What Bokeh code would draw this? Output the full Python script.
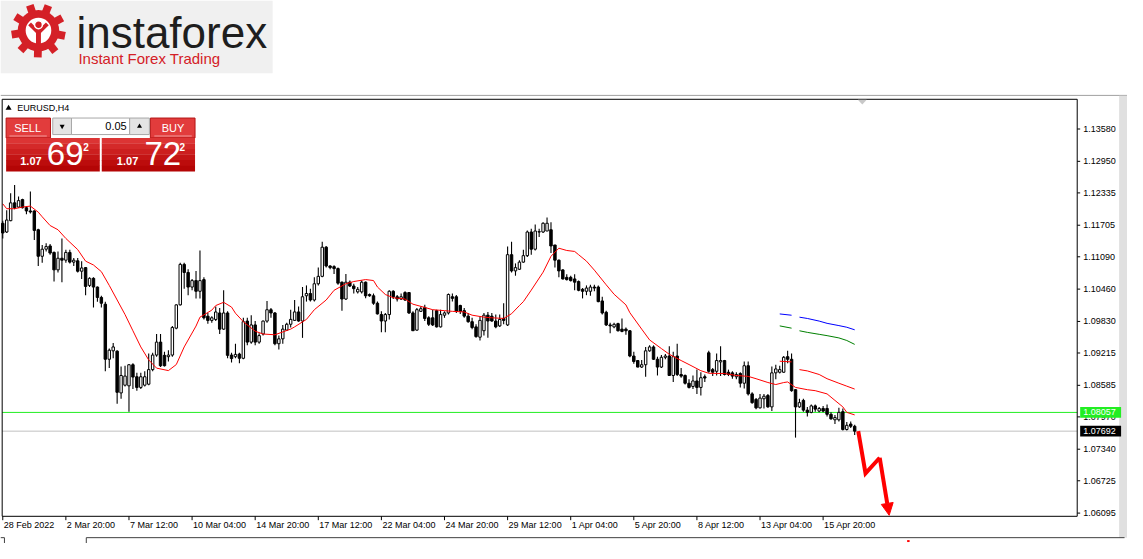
import math
from bokeh.plotting import figure
from bokeh.models import Range1d, Arrow, NormalHead
from bokeh.embed import file_html
from bokeh.resources import INLINE
from bokeh.core.properties import value

FONT = "Liberation Sans"

# ---------------- data (EURUSD H4) ----------------
opens = [1.11743, 1.11573, 1.11794, 1.12141, 1.12059, 1.12204, 1.12046, 1.11983, 1.11983, 1.11617,
         1.11100, 1.11238, 1.11301, 1.11175, 1.10835, 1.11062, 1.11024, 1.11175, 1.10986, 1.11011,
         1.10809, 1.10879, 1.10532, 1.10670, 1.10500, 1.10298, 1.10166, 1.09093, 1.09257, 1.09251,
         1.08437, 1.08588, 1.08575, 1.08986, 1.08752, 1.08544, 1.08588, 1.08607, 1.08891, 1.09175,
         1.09427, 1.09169, 1.09143, 1.09175, 1.09699, 1.10153, 1.10942, 1.10784, 1.10500, 1.10626,
         1.10418, 1.10645, 1.09932, 1.09850, 1.09869, 1.09995, 1.09680, 1.09995, 1.09175, 1.09143,
         1.09194, 1.09112, 1.09837, 1.09427, 1.09762, 1.09427, 1.09585, 1.09837, 1.10058, 1.09995,
         1.09396, 1.09491, 1.09661, 1.09775, 1.09851, 1.10015, 1.09838, 1.10330, 1.10374, 1.10248,
         1.10564, 1.10709, 1.11277, 1.10911, 1.10898, 1.10860, 1.10595, 1.10267, 1.10595, 1.10520,
         1.10406, 1.10406, 1.10595, 1.10355, 1.10330, 1.10185, 1.09964, 1.09838, 1.09964, 1.10418,
         1.10311, 1.10267, 1.10393, 1.10393, 1.09996, 1.09661, 1.10027, 1.10103, 1.09901, 1.09901,
         1.10040, 1.09724, 1.09952, 1.09996, 1.10311, 1.10311, 1.10141, 1.10040, 1.09933, 1.09825,
         1.09724, 1.09523, 1.09649, 1.09952, 1.09933, 1.09837, 1.09743, 1.09888, 1.09762, 1.11131,
         1.10815, 1.10847, 1.10986, 1.11112, 1.11573, 1.11238, 1.11573, 1.11573, 1.11592, 1.11617,
         1.11320, 1.11024, 1.10834, 1.10689, 1.10689, 1.10658, 1.10607, 1.10456, 1.10418, 1.10418,
         1.10500, 1.10500, 1.10229, 1.10008, 1.09762, 1.09724, 1.09787, 1.09680, 1.09680, 1.09648,
         1.09156, 1.09068, 1.08941, 1.08986, 1.09257, 1.09333, 1.09093, 1.08941, 1.09131, 1.09156,
         1.08777, 1.09156, 1.08796, 1.08777, 1.08626, 1.08563, 1.08670, 1.08544, 1.08752, 1.09219,
         1.08891, 1.08859, 1.09042, 1.09068, 1.08840, 1.08828, 1.08752, 1.08815, 1.08626, 1.08967,
         1.08418, 1.08310, 1.08146, 1.08323, 1.08386, 1.08165, 1.08828, 1.08840, 1.08840, 1.09143,
         1.09093, 1.08500, 1.08165, 1.08291, 1.08102, 1.08058, 1.08184, 1.08083, 1.08134, 1.08134,
         1.08020, 1.07913, 1.07913, 1.08071, 1.07724, 1.07831, 1.07787]
highs = [1.11794, 1.11996, 1.12330, 1.12488, 1.12267, 1.12223, 1.12078, 1.12362, 1.11996, 1.11636,
         1.11320, 1.11352, 1.11339, 1.11194, 1.11194, 1.11447, 1.11226, 1.11226, 1.11068, 1.11068,
         1.11005, 1.10891, 1.10689, 1.10689, 1.10513, 1.10330, 1.10216, 1.09301, 1.09408, 1.09270,
         1.08954, 1.08967, 1.08998, 1.09017, 1.08828, 1.08828, 1.08859, 1.09206, 1.09219, 1.09585,
         1.09585, 1.09238, 1.09270, 1.09743, 1.10166, 1.10973, 1.10973, 1.10847, 1.10658, 1.10815,
         1.11213, 1.10689, 1.09995, 1.09932, 1.10121, 1.10090, 1.10437, 1.10027, 1.09219, 1.09396,
         1.09219, 1.09901, 1.09901, 1.09951, 1.09837, 1.09598, 1.09850, 1.10229, 1.10090, 1.10014,
         1.09554, 1.09762, 1.09806, 1.10059, 1.10248, 1.10122, 1.10501, 1.10532, 1.10469, 1.10690,
         1.10879, 1.11384, 1.11302, 1.10923, 1.10923, 1.10879, 1.10608, 1.10753, 1.10627, 1.10564,
         1.10501, 1.10627, 1.10608, 1.10374, 1.10374, 1.10217, 1.10027, 1.09996, 1.10437, 1.10437,
         1.10343, 1.10374, 1.10418, 1.10406, 1.10027, 1.10090, 1.10122, 1.10154, 1.09933, 1.10059,
         1.10059, 1.10059, 1.10027, 1.10374, 1.10374, 1.10343, 1.10154, 1.10090, 1.09996, 1.09901,
         1.09775, 1.09933, 1.09996, 1.10015, 1.09996, 1.09964, 1.09964, 1.10185, 1.11289, 1.11383,
         1.10961, 1.11024, 1.11226, 1.11604, 1.11636, 1.11718, 1.11636, 1.11762, 1.11857, 1.11762,
         1.11320, 1.11036, 1.10847, 1.10752, 1.10721, 1.10752, 1.10626, 1.10481, 1.10532, 1.10544,
         1.10544, 1.10532, 1.10311, 1.10039, 1.09806, 1.09806, 1.09806, 1.09888, 1.09711, 1.09661,
         1.09238, 1.09080, 1.09080, 1.09333, 1.09364, 1.09364, 1.09143, 1.09175, 1.09194, 1.09345,
         1.09238, 1.09396, 1.08922, 1.08796, 1.08702, 1.08777, 1.08891, 1.08840, 1.08796, 1.09257,
         1.08922, 1.09206, 1.09345, 1.09080, 1.08891, 1.08859, 1.08840, 1.08840, 1.09049, 1.09049,
         1.08449, 1.08336, 1.08418, 1.08418, 1.08418, 1.08954, 1.08986, 1.08967, 1.09156, 1.09257,
         1.09206, 1.08512, 1.08323, 1.08323, 1.08165, 1.08209, 1.08209, 1.08165, 1.08184, 1.08209,
         1.08058, 1.08008, 1.08146, 1.08134, 1.07869, 1.07881, 1.07818]
lows = [1.11447, 1.11554, 1.11781, 1.12014, 1.12046, 1.12033, 1.11920, 1.11932, 1.11415, 1.10910,
        1.10973, 1.11194, 1.11131, 1.10607, 1.10784, 1.10595, 1.10973, 1.10961, 1.10910, 1.10784,
        1.10658, 1.10342, 1.10500, 1.10103, 1.10216, 1.10103, 1.08859, 1.08923, 1.09112, 1.08228,
        1.08323, 1.08563, 1.08071, 1.08512, 1.08481, 1.08512, 1.08563, 1.08588, 1.08859, 1.09143,
        1.08942, 1.08954, 1.09049, 1.09143, 1.09680, 1.10140, 1.10469, 1.10342, 1.10437, 1.10279,
        1.10279, 1.09869, 1.09787, 1.09806, 1.09837, 1.09585, 1.09661, 1.09112, 1.09030, 1.09112,
        1.09017, 1.09093, 1.09364, 1.09396, 1.09364, 1.09396, 1.09554, 1.09806, 1.09901, 1.09364,
        1.09283, 1.09396, 1.09649, 1.09712, 1.09838, 1.09825, 1.09510, 1.10217, 1.10217, 1.10217,
        1.10532, 1.10690, 1.10879, 1.10848, 1.10753, 1.10545, 1.10040, 1.10248, 1.10501, 1.10374,
        1.10374, 1.10374, 1.10280, 1.10311, 1.10154, 1.09964, 1.09617, 1.09617, 1.09870, 1.10267,
        1.10217, 1.10248, 1.10229, 1.09977, 1.09649, 1.09649, 1.10015, 1.09838, 1.09743, 1.09743,
        1.09712, 1.09712, 1.09901, 1.09964, 1.10217, 1.09996, 1.09977, 1.09901, 1.09806, 1.09680,
        1.09510, 1.09459, 1.09554, 1.09510, 1.09825, 1.09699, 1.09724, 1.09774, 1.09743, 1.10784,
        1.10721, 1.10834, 1.10973, 1.11087, 1.11131, 1.11213, 1.11478, 1.11554, 1.11592, 1.11162,
        1.10879, 1.10689, 1.10645, 1.10626, 1.10607, 1.10437, 1.10418, 1.10279, 1.10342, 1.10330,
        1.10418, 1.10203, 1.09964, 1.09743, 1.09598, 1.09699, 1.09636, 1.09617, 1.09572, 1.09131,
        1.09005, 1.08935, 1.08922, 1.08752, 1.09238, 1.09080, 1.08777, 1.08922, 1.09093, 1.08765,
        1.08651, 1.08765, 1.08733, 1.08601, 1.08525, 1.08512, 1.08418, 1.08386, 1.08651, 1.08828,
        1.08765, 1.08777, 1.08765, 1.08777, 1.08765, 1.08714, 1.08702, 1.08544, 1.08525, 1.08386,
        1.08228, 1.08121, 1.08134, 1.08134, 1.08146, 1.08083, 1.08702, 1.08815, 1.08828, 1.09017,
        1.08462, 1.07566, 1.08146, 1.08071, 1.07976, 1.08039, 1.08071, 1.08058, 1.08058, 1.07976,
        1.07913, 1.07831, 1.07881, 1.07705, 1.07705, 1.07755, 1.07616]
closes = [1.11554, 1.11806, 1.12141, 1.12046, 1.12185, 1.12046, 1.11983, 1.11964, 1.11604, 1.11100,
          1.11238, 1.11289, 1.11163, 1.10835, 1.11062, 1.11024, 1.11175, 1.10986, 1.11024, 1.10809,
          1.10872, 1.10513, 1.10670, 1.10500, 1.10298, 1.10185, 1.09093, 1.09270, 1.09333, 1.08449,
          1.08777, 1.08765, 1.08986, 1.08746, 1.08544, 1.08752, 1.08752, 1.08891, 1.09175, 1.09427,
          1.08967, 1.08967, 1.09175, 1.09711, 1.10153, 1.10942, 1.10784, 1.10500, 1.10626, 1.10418,
          1.10626, 1.09901, 1.09850, 1.09901, 1.10014, 1.09680, 1.09995, 1.09169, 1.09106, 1.09188,
          1.09112, 1.09825, 1.09427, 1.09762, 1.09427, 1.09554, 1.09837, 1.10058, 1.09995, 1.09396,
          1.09491, 1.09680, 1.09775, 1.09870, 1.10015, 1.09838, 1.10311, 1.10374, 1.10248, 1.10564,
          1.10709, 1.11277, 1.10911, 1.10879, 1.10860, 1.10576, 1.10267, 1.10595, 1.10520, 1.10469,
          1.10456, 1.10595, 1.10330, 1.10330, 1.10185, 1.09977, 1.09838, 1.09964, 1.10418, 1.10311,
          1.10267, 1.10311, 1.10248, 1.09996, 1.09649, 1.10059, 1.10078, 1.09888, 1.09775, 1.09762,
          1.09724, 1.09964, 1.09996, 1.10355, 1.10280, 1.10027, 1.10027, 1.09933, 1.09825, 1.09712,
          1.09535, 1.09851, 1.09952, 1.09838, 1.09838, 1.09724, 1.09869, 1.09850, 1.11131, 1.10815,
          1.10879, 1.10986, 1.11112, 1.11573, 1.11238, 1.11592, 1.11579, 1.11743, 1.11743, 1.11301,
          1.11024, 1.10815, 1.10658, 1.10645, 1.10626, 1.10595, 1.10437, 1.10418, 1.10481, 1.10500,
          1.10481, 1.10216, 1.09995, 1.09762, 1.09743, 1.09774, 1.09648, 1.09636, 1.09648, 1.09156,
          1.09049, 1.08941, 1.08986, 1.09257, 1.09333, 1.09093, 1.08941, 1.09131, 1.09156, 1.08777,
          1.09143, 1.08796, 1.08765, 1.08626, 1.08544, 1.08670, 1.08544, 1.08733, 1.08727, 1.08859,
          1.08840, 1.09068, 1.09068, 1.08796, 1.08796, 1.08765, 1.08796, 1.08626, 1.08967, 1.08418,
          1.08247, 1.08146, 1.08336, 1.08373, 1.08165, 1.08828, 1.08904, 1.08891, 1.09131, 1.09093,
          1.08481, 1.08165, 1.08247, 1.08102, 1.08058, 1.08184, 1.08121, 1.08134, 1.08083, 1.08020,
          1.07932, 1.07957, 1.08058, 1.07724, 1.07806, 1.07787, 1.07692]

# moving average (bar index, price)
ma_bars = [0, 1, 3, 5, 7, 9, 10, 12, 14, 16, 19, 21, 23, 25, 27, 29, 31, 33, 35, 37, 39, 42, 44,
           46, 49, 50, 53, 54, 56, 58, 59, 61, 64, 66, 69, 73, 74, 77, 79, 82, 84, 87, 89, 92,
           94, 95, 97, 99, 102, 104, 107, 109, 112, 114, 117, 119, 122, 124, 127, 129, 131, 132,
           134, 137, 139, 141, 143, 145, 146, 148, 150, 153, 155, 158, 159, 162, 164, 167, 169,
           172, 174, 177, 179, 183, 186, 189, 191, 194, 196, 198, 199, 201, 204, 206, 209, 211,
           213, 214, 216]
ma_values = [1.12122, 1.12027, 1.12027, 1.12059, 1.12078, 1.11960, 1.11869, 1.11699, 1.11617,
             1.11447, 1.11230, 1.11005, 1.10930, 1.10800, 1.10532, 1.10248, 1.09964, 1.09648,
             1.09333, 1.09080, 1.08920, 1.08872, 1.08990, 1.09333, 1.09740, 1.09913, 1.10050,
             1.10140, 1.10203, 1.10110, 1.09990, 1.09825, 1.09640, 1.09585, 1.09570, 1.09680,
             1.09724, 1.09870, 1.10059, 1.10248, 1.10437, 1.10564, 1.10608, 1.10646, 1.10627,
             1.10501, 1.10355, 1.10292, 1.10267, 1.10166, 1.10103, 1.10059, 1.10040, 1.10027,
             1.10015, 1.09952, 1.09914, 1.09901, 1.09889, 1.09980, 1.10140, 1.10216, 1.10440,
             1.10790, 1.11100, 1.11257, 1.11213, 1.11194, 1.11131, 1.11005, 1.10830, 1.10544,
             1.10360, 1.10153, 1.10000, 1.09680, 1.09470, 1.09301, 1.09190, 1.09068, 1.08990,
             1.08870, 1.08820, 1.08815, 1.08777, 1.08760, 1.08714, 1.08640, 1.08600, 1.08639,
             1.08651, 1.08544, 1.08500, 1.08481, 1.08418, 1.08291, 1.08165, 1.08058, 1.08008]

# short indicator lines at the right end (two pieces each)
ind_bars_a = [197, 200]
ind_bars_b = [202, 204, 207, 209, 212, 214, 216]
blue_a = [1.09976, 1.09951]
blue_b = [1.09913, 1.09888, 1.09837, 1.09793, 1.09749, 1.09717, 1.09667]
green_a = [1.09743, 1.09699]
green_b = [1.09648, 1.09617, 1.09579, 1.09553, 1.09509, 1.09459, 1.09383]
red_a = [1.09055, 1.09042]
red_b = [1.08891, 1.08866, 1.08796, 1.08714, 1.08626, 1.08569, 1.08512]

# forecast arrow path (bar index, price)
forecast_bars = [216.9, 218.75, 222.35]
forecast_prices = [1.07693, 1.06871, 1.07174]
forecast_tip = [224.75, 1.06052]

level_price = 1.08057
bid_price = 1.07692
level_text = "1.08057"
bid_text = "1.07692"

price_ticks = [1.06095, 1.06725, 1.07340, 1.07970, 1.08585, 1.09215, 1.09830,
               1.10460, 1.11090, 1.11705, 1.12335, 1.12950, 1.13580]
time_tick_bars = [0, 16, 32, 48, 64, 80, 96, 112, 128, 144, 160, 176, 192, 208]
time_tick_labels = ["28 Feb 2022", "2 Mar 20:00", "7 Mar 12:00", "10 Mar 04:00", "14 Mar 20:00",
                    "17 Mar 12:00", "22 Mar 04:00", "24 Mar 20:00", "29 Mar 12:00", "1 Apr 04:00",
                    "5 Apr 20:00", "8 Apr 12:00", "13 Apr 04:00", "15 Apr 20:00"]

# ---------------- figure: default ranges = screen layout, extra ranges = chart scales ------
p = figure(width=1127, height=543, x_range=Range1d(0, 1143), y_range=Range1d(559, 0),
           toolbar_location=None, output_backend="svg", x_axis_location=None,
           y_axis_location=None, min_border=0, outline_line_color=None)
p.min_border_left = p.min_border_right = p.min_border_top = p.min_border_bottom = 0
p.background_fill_color = "white"
p.border_fill_color = "white"
p.xgrid.visible = False
p.ygrid.visible = False
p.grid.visible = False
# chart scales: bar index (4 px per bar) and price
p.extra_x_ranges = {"bar": Range1d(-0.575, 285.175)}
p.extra_y_ranges = {"price": Range1d(1.055025, 1.160845)}
B = dict(x_range_name="bar", y_range_name="price")

# ---- logo ----
p.quad(left=0, right=276, top=0, bottom=75, fill_color="#f0f0f0", line_color=None)
gx, gy = 38.5, 31.0
angles = [2 * math.pi * k / 9 + 0.2 for k in range(9)]
p.rect(x=[gx + 23.5 * math.cos(t) for t in angles], y=[gy + 23.5 * math.sin(t) for t in angles],
       width=8, height=8, angle=[-t for t in angles], fill_color="#d42027", line_color=None)
p.circle(x=[gx], y=[gy], radius=21, fill_color="#d42027", line_color=None)
p.circle(x=[gx], y=[gy], radius=13, fill_color="white", line_color=None)
p.quad(left=gx - 2.5, right=gx + 2.5, top=gy - 2, bottom=gy + 22, fill_color="#d42027",
       line_color=None)
p.multi_line(xs=[[gx, gx - 9], [gx, gx + 9]], ys=[[gy + 2, gy - 7], [gy + 2, gy - 7]],
             line_color="#d42027", line_width=4)
p.circle(x=[gx], y=[gy - 6], radius=4, fill_color="#d42027", line_color="white", line_width=1.5)
p.text(x=[77], y=[33], text=["instaforex"], text_font=value(FONT), text_font_size="44px",
       text_color="#1e1e1e", text_baseline="middle", text_align="left")
p.text(x=[79], y=[59.5], text=["Instant Forex Trading"], text_font=value(FONT),
       text_font_size="15px", text_color="#d42027", text_baseline="middle", text_align="left")

# ---- window borders ----
p.segment(x0=[0], y0=[97.7], x1=[1143], y1=[97.7], line_color="#a0a0a0", line_width=1)
p.quad(left=1134.5, right=1143, top=98, bottom=553, fill_color="#e0e0e0", line_color=None)
p.multi_line(xs=[[0, 4, 4], [1140, 87, 87]], ys=[[553, 553, 559], [553, 553, 559]],
             line_color="#404040", line_width=1)
p.quad(left=919.5, right=922, top=555.5, bottom=557.5, fill_color="#ff0000", line_color=None)

# ---- horizontal levels (under the candles) ----
p.segment(x0=[1.7], y0=[level_price], x1=[1092], y1=[level_price], line_color="#22ee22",
          line_width=1, y_range_name="price")
p.segment(x0=[1.7], y0=[bid_price], x1=[1092], y1=[bid_price], line_color="#c0c0c0",
          line_width=1, y_range_name="price")

# ---- candles ----
idx = list(range(len(opens)))
up_i = [i for i in idx if closes[i] >= opens[i]]
dn_i = [i for i in idx if closes[i] < opens[i]]
p.segment(x0=idx, y0=lows, x1=idx, y1=highs, line_color="black", line_width=1.1, **B)
p.vbar(x=up_i, width=0.62, top=[closes[i] for i in up_i], bottom=[opens[i] for i in up_i],
       fill_color="white", line_color="black", line_width=1, **B)
p.vbar(x=dn_i, width=0.62, top=[opens[i] for i in dn_i], bottom=[closes[i] for i in dn_i],
       fill_color="black", line_color="black", line_width=1, **B)

# ---- indicators ----
p.line(x=ma_bars, y=ma_values, line_color="#ff0000", line_width=1, **B)
p.multi_line(xs=[ind_bars_a, ind_bars_b, ind_bars_a, ind_bars_b, ind_bars_a, ind_bars_b],
             ys=[blue_a, blue_b, green_a, green_b, red_a, red_b],
             line_color=["#0000ff", "#0000ff", "#008000", "#008000", "#ff0000", "#ff0000"],
             line_width=1, **B)

# ---- forecast arrow ----
p.line(x=forecast_bars, y=forecast_prices, line_color="#ff0000", line_width=4,
       line_join="miter", **B)
p.add_layout(Arrow(x_start=forecast_bars[-1], y_start=forecast_prices[-1],
                   x_end=forecast_tip[0], y_end=forecast_tip[1], line_color="#ff0000",
                   line_width=4, x_range_name="bar", y_range_name="price",
                   end=NormalHead(size=12, fill_color="#ff0000", line_color="#ff0000")))

# ---- chart frame ----
p.quad(left=1.7, right=1092, top=101.7, bottom=531, fill_color=None, line_color="black",
       line_width=1)
p.patch(x=[869.5, 878.5, 874], y=[102.3, 102.3, 107], fill_color="#c8c8c8", line_color=None)

# ---- price scale (right) ----
p.segment(x0=[1092] * len(price_ticks), y0=price_ticks, x1=[1095] * len(price_ticks),
          y1=price_ticks, line_color="black", line_width=1, y_range_name="price")
p.text(x=[1098] * len(price_ticks), y=price_ticks, text=["%.5f" % t for t in price_ticks],
       text_font=value(FONT), text_font_size="9px", text_color="black", text_baseline="middle",
       text_align="left", y_range_name="price")
tag_half = 0.00104
p.quad(left=[1095, 1095], right=[1136.5, 1136.5], top=[level_price + tag_half, bid_price + tag_half],
       bottom=[level_price - tag_half, bid_price - tag_half], fill_color=["#22ee22", "black"],
       line_color=None, y_range_name="price")
p.text(x=[1098, 1098], y=[level_price, bid_price], text=[level_text, bid_text],
       text_font=value(FONT), text_font_size="9px", text_color="white", text_baseline="middle",
       text_align="left", y_range_name="price")

# ---- time scale (bottom) ----
p.segment(x0=time_tick_bars, y0=[531] * len(time_tick_bars), x1=time_tick_bars,
          y1=[535] * len(time_tick_bars), line_color="black", line_width=1, x_range_name="bar")
p.text(x=time_tick_bars, y=[539.5] * len(time_tick_bars), text=time_tick_labels, x_offset=1,
       text_font=value(FONT), text_font_size="9px", text_color="black", text_baseline="middle",
       text_align="left", x_range_name="bar")

# ---- symbol caption ----
p.scatter(x=[8.2], y=[110.8], marker="triangle", size=6, fill_color="black", line_color=None)
p.text(x=[17], y=[110.5], text=["EURUSD,H4"], text_font=value(FONT), text_font_size="9px",
       text_color="black", text_baseline="middle")

# ---- one-click trading panel ----
def rq(l, r, t, b, fill, line=None):
    p.quad(left=l, right=r, top=t, bottom=b, fill_color=fill, line_color=line)

rq(5.7, 50.7, 121, 141.5, "#e23c3c", "#b51515")
rq(152, 197.3, 121, 141.5, "#e23c3c", "#b51515")
band_cols = ["#dc3434", "#d42929", "#cc1f1f", "#c41515", "#bc0c0c", "#b40505"]
for k, col in enumerate(band_cols):
    t = 141.5 + k * 34.2 / 6
    rq(5.7, 100.7, t, t + 34.2 / 6 + 0.3, col)
    rq(102.7, 197.3, t, t + 34.2 / 6 + 0.3, col)
p.segment(x0=[9, 156], y0=[139.5, 139.5], x1=[47, 194], y1=[139.5, 139.5], line_color="#f29a9a",
          line_width=1)
rq(53, 72, 121, 138, "#e4e4e4", "#a8a8a8")
rq(72, 131, 121, 138, "white", "#a8a8a8")
rq(131, 151, 121, 138, "#e4e4e4", "#a8a8a8")
p.scatter(x=[62.5], y=[129.5], marker="inverted_triangle", size=5, fill_color="black",
          line_color=None)
p.scatter(x=[141], y=[129.5], marker="triangle", size=5, fill_color="black", line_color=None)
p.text(x=[128], y=[129.5], text=["0.05"], text_font=value(FONT), text_font_size="11px",
       text_color="black", text_align="right", text_baseline="middle")
p.text(x=[27.5, 175], y=[131, 131], text=["SELL", "BUY"], text_font=value(FONT),
       text_font_size="11px", text_color="white", text_align="center", text_baseline="middle")
p.text(x=[20, 118], y=[165.5, 165.5], text=["1.07", "1.07"], text_font=value(FONT),
       text_font_size="11px", text_font_style="bold", text_color="white", text_baseline="middle")
p.text(x=[47, 146], y=[158, 158], text=["69", "72"], text_font=value(FONT),
       text_font_size="33px", text_color="white", text_baseline="middle")
p.text(x=[84, 181.5], y=[150.5, 150.5], text=["2", "2"], text_font=value(FONT),
       text_font_size="10px", text_font_style="bold", text_color="white", text_baseline="middle")

open("out.html", "w").write(file_html(p, INLINE))
